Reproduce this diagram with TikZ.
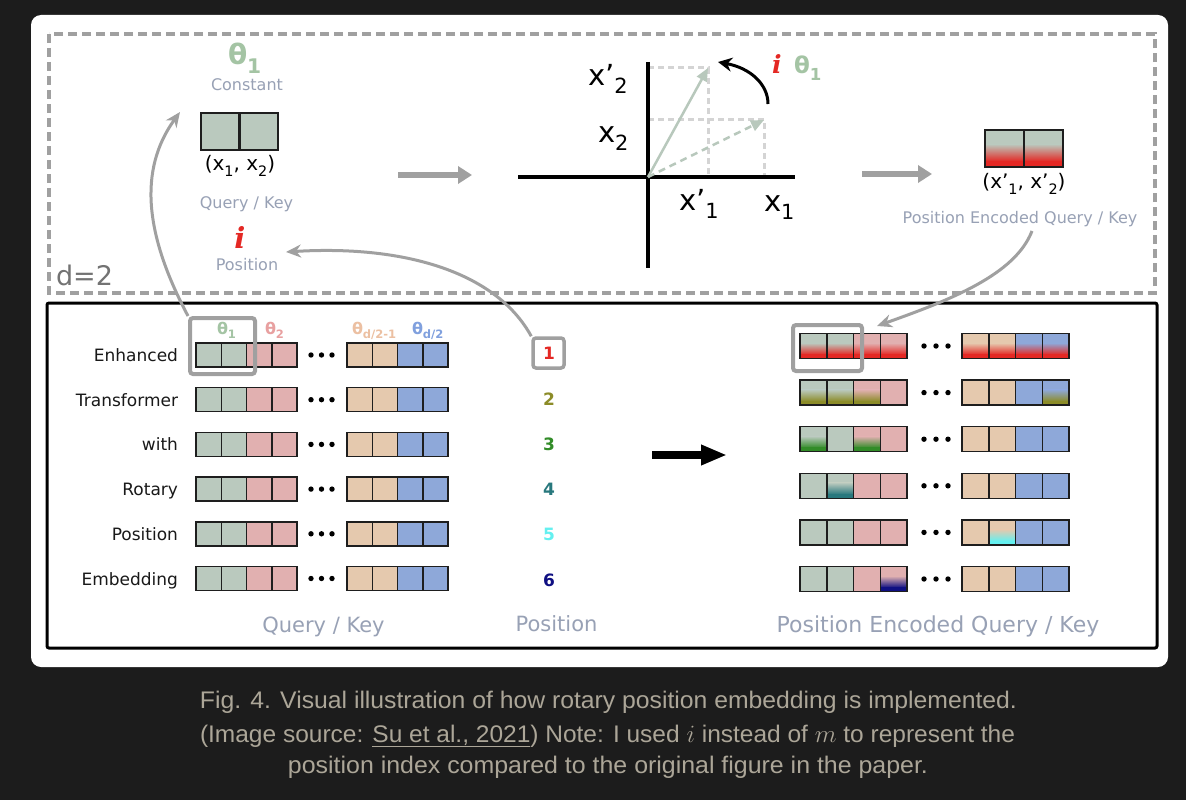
\documentclass[tikz,border=0pt]{standalone}
\usepackage{fontspec}
\usepackage{graphicx}
\setmainfont{DejaVu Sans}
\newfontfamily\capfont{Liberation Sans}
\newfontfamily\iserif{DejaVu Serif}
\usetikzlibrary{arrows.meta}
\definecolor{bgdark}{RGB}{28,28,28}
\definecolor{qgreen}{RGB}{186,201,190}
\definecolor{qred}{RGB}{225,176,176}
\definecolor{qtan}{RGB}{229,201,174}
\definecolor{qblue}{RGB}{142,168,217}
\definecolor{thgreen}{RGB}{164,196,164}
\definecolor{thred}{RGB}{232,160,160}
\definecolor{thtan}{RGB}{236,192,162}
\definecolor{thblue}{RGB}{128,160,222}
\definecolor{lblue}{RGB}{152,161,181}
\definecolor{gline}{RGB}{160,160,160}
\definecolor{dlight}{RGB}{212,212,212}
\definecolor{vecc}{RGB}{184,200,188}
\definecolor{capc}{RGB}{172,166,152}
\definecolor{cellb}{RGB}{30,30,30}
\definecolor{pA}{RGB}{228,40,36}
\definecolor{pB}{RGB}{140,140,40}
\definecolor{pC}{RGB}{50,140,40}
\definecolor{pD}{RGB}{40,120,125}
\definecolor{pE}{RGB}{100,240,240}
\definecolor{pF}{RGB}{15,15,130}
\definecolor{dgray}{RGB}{115,115,115}
\newcommand{\fsz}[1]{\fontsize{#1}{#1}\selectfont}
\newcommand{\sbs}[1]{\raisebox{-0.3em}{\scalebox{0.72}{#1}}}
\newcommand{\prm}{\char"27}
\newcommand{\redi}{{\iserif\bfseries\itshape\color{pA}i}}
\newcommand{\qcell}[5]{\filldraw[fill=#5,draw=cellb,line width=1.5pt] (#1,#2) rectangle ++(#3,#4);}
\newcommand{\gcell}[6]{%
  \fill[#5] (#1,#2) rectangle ++(#3,#4);
  \shade[top color=#5,bottom color=#6] (#1,#2+0.38*#4) rectangle (#1+#3,#2+0.85*#4);
  \fill[#6] (#1,#2+0.83*#4) rectangle (#1+#3,#2+#4);
  \draw[cellb,line width=1.5pt] (#1,#2) rectangle ++(#3,#4);}
\tikzset{
  txt/.style={inner sep=0pt, outer sep=0pt},
  rowlab/.style={txt, anchor=base east, font=\fsz{17}, text=black!90},
  toplab/.style={txt, anchor=base, font=\fsz{16}, text=lblue},
  botlab/.style={txt, anchor=base, font=\fsz{21}, text=lblue},
  axlab/.style={txt, anchor=base west, font=\fsz{29}},
  thlab/.style={txt, anchor=base west, font=\fsz{16}\bfseries},
  posn/.style={txt, anchor=center, font=\fsz{17}\bfseries},
  hlbox/.style={draw=gline, line width=4pt, rounded corners=3pt, inner sep=0pt, fill=none},
  gcurve/.style={draw=gline, line width=3pt, -{Stealth[length=15pt,width=13pt]}},
  garrow/.style={draw=gline, line width=5.5pt, -{Triangle[length=14pt,width=17pt]}},
  caplab/.style={txt, anchor=base, font=\capfont\fsz{24}, text=capc},
}
\begin{document}
\begin{tikzpicture}[x=1pt,y=-1pt]
\useasboundingbox (0,0) rectangle (1186,800);
\fill[bgdark] (0,0) rectangle (1186,800);
\fill[white, rounded corners=10pt] (31,15) rectangle (1168,667);

% dashed box (d=2)
\draw[gline, line width=4.5pt, dash pattern=on 9pt off 5pt] (49,34) rectangle (1155,293);
\node[txt, anchor=base west, font=\fsz{27}, text=dgray] (d2) at (56,285) {d=2};

% solid box
\draw[black, line width=3pt, rounded corners=2pt] (47,303) rectangle (1157,648);

% ---------- top left ----------
\node[txt, anchor=base west, font=\fsz{28}\bfseries, text=thgreen] (th1top) at (228,65) {θ\sbs{1}};
\node[toplab] (const) at (247,91) {Constant};
\filldraw[fill=qgreen, draw=cellb, line width=2.5pt] (201,113) rectangle (239.5,150);
\filldraw[fill=qgreen, draw=cellb, line width=2.5pt] (239.5,113) rectangle (278,150);
\node[txt, anchor=base, font=\fsz{20}] (x12) at (240,170) {(x\sbs{1}, x\sbs{2})};
\node[toplab] (qklab) at (246.5,208) {Query / Key};
\node[txt, anchor=base, font=\fsz{29}] (itop) at (240,248) {\redi};
\node[toplab] (poslab) at (247,270) {Position};

% ---------- rotation plot ----------
\coordinate (O) at (648,177);
\coordinate (axL) at (518,177); \coordinate (axR) at (795,177);
\coordinate (axT) at (648,62);  \coordinate (axB) at (648,268);
\coordinate (v2) at (708,68);   \coordinate (v1) at (764,120);
\draw[dlight, line width=3pt, dash pattern=on 6pt off 4pt] (648,68) -- (708,68) -- (708,177);
\draw[dlight, line width=3pt, dash pattern=on 6pt off 4pt] (648,119) -- (764,119) -- (764,177);
\draw[line width=4pt] (axL) -- (axR);
\draw[line width=4pt] (axT) -- (axB);
\draw[vecc, line width=2.5pt, -{Triangle[length=13pt,width=11pt]}] (O) -- (v2);
\draw[vecc, line width=2.5pt, dash pattern=on 7pt off 5pt, -{Triangle[length=13pt,width=11pt]}] (O) -- (v1);
\coordinate (rs) at (768,104); \coordinate (re) at (718,62);
\draw[line width=3pt, -{Stealth[length=14pt,width=14pt]}] (rs) .. controls (768,84) and (750,68) .. (re);
\node[txt, anchor=base west, font=\fsz{25}] (irot) at (772,74) {\redi};
\node[txt, anchor=base west, font=\fsz{23}\bfseries, text=thgreen] (throt) at (794,74) {θ\sbs{1}};
\node[axlab] (lxp2) at (588,85) {x\prm\sbs{2}};
\node[axlab] (lx2) at (598,142) {x\sbs{2}};
\node[axlab] (lxp1) at (679,210) {x\prm\sbs{1}};
\node[axlab] (lx1) at (764,211) {x\sbs{1}};

% gray arrows
\coordinate (ga1s) at (398,175); \coordinate (ga1e) at (472,175);
\coordinate (ga2s) at (862,174); \coordinate (ga2e) at (932,174);
\draw[garrow] (ga1s) -- (ga1e);
\draw[garrow] (ga2s) -- (ga2e);

% ---------- top right ----------
\gcell{985}{130}{39}{37}{qgreen}{pA}
\gcell{1024}{130}{39}{37}{qgreen}{pA}
\draw[cellb, line width=2.5pt] (985,130) rectangle (1063,167) (1024,130) -- (1024,167);
\node[txt, anchor=base, font=\fsz{20}] (xp12) at (1024,188) {(x\prm\sbs{1}, x\prm\sbs{2})};
\node[txt, anchor=base, font=\fsz{16}, text=lblue] (pekq) at (1020,223) {Position Encoded Query / Key};

% ---------- bottom: left rows ----------
\foreach \r in {0,...,5}{
  \pgfmathsetmacro\yt{343+\r*44.7}
  \foreach \c/\col in {0/qgreen,1/qgreen,2/qred,3/qred}{\qcell{196+\c*25.3}{\yt}{25.3}{24}{\col}}
  \foreach \c/\col in {0/qtan,1/qtan,2/qblue,3/qblue}{\qcell{347+\c*25.3}{\yt}{25.3}{24}{\col}}
  \foreach \dx in {311,321.5,332}{\fill (\dx,\yt+12) circle (2.7pt);}
}
\node[rowlab] (r1) at (178,361.5) {Enhanced};
\node[rowlab] (r2) at (178,406.2) {Transformer};
\node[rowlab] (r3) at (178,450.9) {with};
\node[rowlab] (r4) at (178,495.6) {Rotary};
\node[rowlab] (r5) at (178,540.3) {Position};
\node[rowlab] (r6) at (178,585) {Embedding};

\node[thlab, text=thgreen] (t1) at (217,334) {θ\sbs{1}};
\node[thlab, text=thred] (t2) at (265,334) {θ\sbs{2}};
\node[thlab, text=thtan] (t3) at (352,334) {θ\sbs{d/2-1}};
\node[thlab, text=thblue] (t4) at (412,334) {θ\sbs{d/2}};
\node[hlbox, minimum width=65pt, minimum height=56pt] (hlL) at (222.5,346) {};

% position numbers
\node[posn, text=pA] (n1) at (549,353.5) {1};
\node[posn, text=pB] (n2) at (549,398.8) {2};
\node[posn, text=pC] (n3) at (549,444.1) {3};
\node[posn, text=pD] (n4) at (549,489.4) {4};
\node[posn, text=pE] (n5) at (549,534.7) {5};
\node[posn, text=pF] (n6) at (549,580) {6};
\node[draw=gline, line width=3.5pt, rounded corners=3pt, minimum width=31pt, minimum height=30pt, inner sep=0pt] (n1box) at (548.5,353) {};

% black arrow
\coordinate (bas) at (652,455); \coordinate (bae) at (727,455);
\draw[line width=7.5pt, -{Triangle[length=26pt,width=19pt]}] (bas) -- (bae);

% ---------- bottom: right rows ----------
\foreach \r in {0,...,5}{
  \pgfmathsetmacro\yt{333.5+\r*46.6}
  \foreach \c/\col in {0/qgreen,1/qgreen,2/qred,3/qred}{\qcell{800+\c*26.8}{\yt}{26.8}{25}{\col}}
  \foreach \c/\col in {0/qtan,1/qtan,2/qblue,3/qblue}{\qcell{962+\c*26.8}{\yt}{26.8}{25}{\col}}
  \foreach \dx in {924,936,948}{\fill (\dx,\yt+12.5) circle (2.7pt);}
}
\foreach \yy/\xx/\base/\col in {
  333.5/800/qgreen/pA, 333.5/826.8/qgreen/pA, 333.5/853.6/qred/pA, 333.5/880.4/qred/pA,
  333.5/962/qtan/pA, 333.5/988.8/qtan/pA, 333.5/1015.6/qblue/pA, 333.5/1042.4/qblue/pA,
  380.1/800/qgreen/pB, 380.1/826.8/qgreen/pB, 380.1/853.6/qred/pB, 380.1/1042.4/qblue/pB,
  426.7/800/qgreen/pC, 426.7/853.6/qred/pC,
  473.3/826.8/qgreen/pD,
  519.9/988.8/qtan/pE,
  566.5/880.4/qred/pF}{
  \gcell{\xx}{\yy}{26.8}{25}{\base}{\col}
}
\node[hlbox, minimum width=69pt, minimum height=46pt] (hlR) at (827.5,348) {};

% bottom labels
\node[botlab] (bq) at (323.5,632) {Query / Key};
\node[botlab] (bp) at (556.5,631) {Position};
\node[botlab, font=\fsz{22}] (bpe) at (938,632) {Position Encoded Query / Key};

% ---------- curved gray arrows ----------
\coordinate (c1e) at (180,112);
\draw[gcurve] (hlL.north west) .. controls (145,235) and (138,170) .. (c1e);
\coordinate (c2e) at (286,252);
\draw[gcurve] (n1box.north west) .. controls (495,270) and (400,245) .. (c2e);
\coordinate (c3s) at (1032,231);
\coordinate (c3e) at (877,326);
\draw[gcurve] (c3s) .. controls (1015,275) and (950,300) .. (c3e);

% ---------- caption ----------
\node[caplab] (cap1) at (608.5,708) {\resizebox{817pt}{\height}{Fig. 4. Visual illustration of how rotary position embedding is implemented.}};
\node[caplab] (cap2) at (607.5,742) {\resizebox{815pt}{\height}{(Image source: \underline{Su et al., 2021}) Note: I used $i$ instead of $m$ to represent the}};
\node[caplab] (cap3) at (608,773) {\resizebox{640pt}{\height}{position index compared to the original figure in the paper.}};
\end{tikzpicture}
\end{document}
